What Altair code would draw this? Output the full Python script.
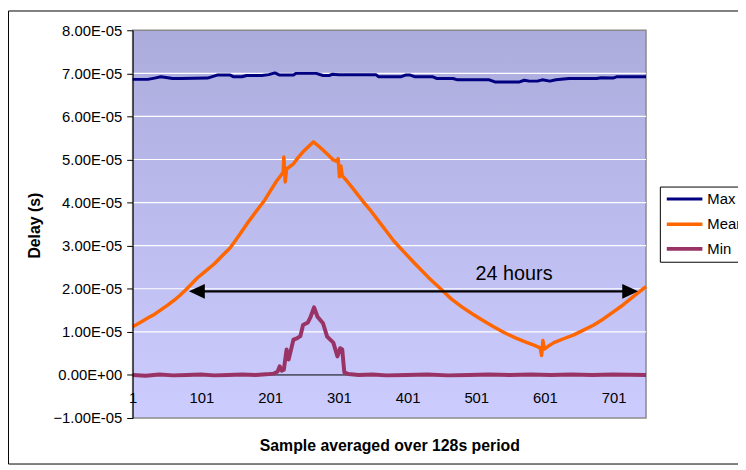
import altair as alt
import pandas as pd

# ---------------- data (delay values in units of 1e-5 s) ----------------
series_names = ["Max", "Mean", "Min"]
series_colors = ["#000080", "#FF6600", "#993366"]
series_widths = [3, 4, 4]

max_s = [1, 23, 33, 42, 52, 59, 71, 110, 124, 143, 148, 160, 167, 189, 199, 208, 215, 235, 239,
         268, 278, 287, 292, 301, 355, 359, 391, 398, 405, 412, 438, 444, 467, 474, 520, 528,
         564, 571, 578, 590, 597, 608, 617, 636, 676, 683, 700, 705, 748]
max_v = [6.86, 6.86, 6.89, 6.92, 6.90, 6.88, 6.88, 6.89, 6.96, 6.96, 6.92, 6.92, 6.95, 6.95,
         6.97, 7.01, 6.96, 6.96, 7.00, 7.00, 6.95, 6.95, 6.98, 6.97, 6.97, 6.92, 6.92, 6.96,
         6.96, 6.92, 6.92, 6.88, 6.88, 6.85, 6.85, 6.80, 6.80, 6.84, 6.82, 6.82, 6.85, 6.82,
         6.85, 6.88, 6.88, 6.90, 6.89, 6.92, 6.92]

mean_s = [1, 12, 23, 33, 42, 52, 62, 70, 78, 86, 95, 108, 120, 131, 143, 155, 167, 180, 192,
          201, 210, 218, 220, 221, 223, 225, 235, 242, 249, 257, 264, 271, 278, 286, 293, 299,
          300, 302, 304, 306, 312, 324, 336, 348, 359, 370, 381, 396, 412, 431, 451, 465, 480,
          495, 509, 525, 542, 558, 575, 585, 594, 596, 598, 600, 607, 614, 628, 643, 657, 672,
          686, 700, 715, 729, 740, 748]
mean_v = [1.12, 1.22, 1.32, 1.41, 1.51, 1.62, 1.74, 1.85, 1.97, 2.10, 2.25, 2.42, 2.58, 2.76,
          2.95, 3.22, 3.50, 3.78, 4.03, 4.26, 4.49, 4.66, 4.70, 5.06, 4.48, 4.78, 4.90, 5.05,
          5.18, 5.30, 5.41, 5.32, 5.22, 5.10, 4.99, 4.95, 5.02, 4.60, 4.85, 4.62, 4.52, 4.28,
          4.03, 3.80, 3.57, 3.34, 3.11, 2.85, 2.58, 2.27, 1.97, 1.76, 1.58, 1.42, 1.28, 1.13,
          0.98, 0.86, 0.75, 0.69, 0.63, 0.45, 0.80, 0.60, 0.68, 0.75, 0.84, 0.93, 1.04, 1.16,
          1.30, 1.46, 1.63, 1.81, 1.95, 2.05]

min_s = [1, 20, 40, 60, 80, 100, 120, 140, 160, 180, 200, 206, 212, 215, 218, 221, 225, 228,
         235, 240, 245, 249, 256, 260, 265, 270, 278, 284, 293, 299, 303, 306, 309, 315, 330,
         350, 370, 400, 430, 460, 490, 520, 550, 580, 610, 640, 670, 700, 748]
min_v = [0.0, -0.02, 0.01, -0.01, 0.0, 0.01, -0.01, 0.0, 0.01, 0.0, 0.02, 0.03, 0.08, 0.20,
         0.10, 0.12, 0.59, 0.36, 0.82, 0.85, 0.90, 1.16, 1.22, 1.35, 1.57, 1.35, 1.20, 0.89,
         0.75, 0.43, 0.62, 0.59, 0.06, 0.02, 0.0, 0.01, -0.01, 0.0, 0.01, -0.01, 0.0, 0.01,
         0.0, 0.01, 0.0, 0.01, 0.0, 0.01, 0.0]

x_ticks = [1, 101, 201, 301, 401, 501, 601, 701]
y_ticks = [-1, 0, 1, 2, 3, 4, 5, 6, 7, 8]
grid_levels = [1, 2, 3, 4, 5, 6, 7]

arrow_start, arrow_end = 83, 736.5
arrow_level = 1.94
annotation_text = ["24 hours"]
annotation_pos = [556]
annotation_level = [2.33]

x_domain = [1, 748]
UNIT = 1e-5

# ---------------- tables ----------------
rows = []
for name, ss, vs in [("Max", max_s, max_v), ("Mean", mean_s, mean_v), ("Min", min_s, min_v)]:
    for s, v in zip(ss, vs):
        rows.append({"sample": s, "delay": v * UNIT, "series": name})
df = pd.DataFrame(rows)

df_grid = pd.DataFrame({"delay": [g * UNIT for g in grid_levels]})
df_zero = pd.DataFrame({"delay": [0.0]})
df_arrow = pd.DataFrame({"sample": [arrow_start + 8], "sample2": [arrow_end - 8],
                         "delay": [arrow_level * UNIT]})
df_left = pd.DataFrame({"sample": [arrow_start], "delay": [arrow_level * UNIT]})
df_right = pd.DataFrame({"sample": [arrow_end], "delay": [arrow_level * UNIT]})
df_text = pd.DataFrame({"sample": annotation_pos, "delay": [a * UNIT for a in annotation_level],
                        "label": annotation_text})
df_one = pd.DataFrame({"a": [0]})

W, H = 519, 392
FONT = "Liberation Sans"

x_scale = alt.Scale(domain=x_domain, nice=False, zero=False)
y_scale = alt.Scale(domain=[y_ticks[0] * UNIT, y_ticks[-1] * UNIT], nice=False, zero=False)

x_axis = alt.Axis(values=x_ticks, format="d", title="Sample averaged over 128s period",
                  offset=-44, domain=False, ticks=False, grid=False, labelPadding=16,
                  labelFlush=False, labelOverlap=False, labelFont=FONT, labelFontSize=15,
                  labelColor="black", titleFont=FONT, titleFontSize=16, titleFontWeight="bold",
                  titleColor="black", titleY=72, titleBaseline="middle", zindex=1)
y_axis = alt.Axis(values=[t * UNIT for t in y_ticks],
                  labelExpr="abs(datum.value) < 1e-9 ? '0.00E+00' : format(datum.value * 1e5, '.2f') + 'E-05'",
                  title="Delay (s)", grid=False, domainColor="black", tickColor="black",
                  tickSize=6, labelPadding=5, labelFont=FONT, labelFontSize=15,
                  labelColor="black", labelOverlap=False, labelFlush=False,
                  titleFont=FONT, titleFontSize=16, titleFontWeight="bold",
                  titleColor="black", titleX=-99, titleY=197, titleBaseline="middle",
                  titleAlign="center", zindex=1)

X = alt.X("sample:Q", scale=x_scale, axis=x_axis)
Y = alt.Y("delay:Q", scale=y_scale, axis=y_axis)

gradient = alt.LinearGradient(
    gradient="linear",
    stops=[alt.GradientStop(color="#ABABDC", offset=0),
           alt.GradientStop(color="#CCCCFF", offset=1)],
    x1=0, x2=0, y1=0, y2=1)

frame = alt.Chart(df_one).mark_rect(fill="white", fillOpacity=0, stroke="black", strokeWidth=1).encode(
    x=alt.value(-125.5), x2=alt.value(W + 150), y=alt.value(-19.5), y2=alt.value(H + 46.5))

bg = alt.Chart(df_one).mark_rect(fill=gradient, stroke="#8a8a8a", strokeWidth=1.5).encode(
    x=alt.value(0), x2=alt.value(W), y=alt.value(0), y2=alt.value(H))

grid = alt.Chart(df_grid).mark_rule(color="white", strokeWidth=1.2).encode(y=Y)
zero = alt.Chart(df_zero).mark_rule(color="black", strokeWidth=1).encode(y=Y)

lines = alt.Chart(df).mark_line(strokeJoin="round").encode(
    x=X, y=Y,
    color=alt.Color("series:N", scale=alt.Scale(domain=series_names, range=series_colors),
                    legend=alt.Legend(title=None, orient="none", legendX=533, legendY=158,
                                      direction="vertical", fillColor="white",
                                      strokeColor="black", padding=5,
                                      symbolType="M-1,0H5", symbolSize=144,
                                      symbolStrokeWidth=4,
                                      labelFont=FONT, labelFontSize=15, labelColor="black",
                                      labelOffset=27, rowPadding=9)),
    strokeWidth=alt.StrokeWidth("series:N", scale=alt.Scale(domain=series_names, range=series_widths),
                                legend=None),
    order=alt.Order("sample:Q"),
)

arrow = alt.Chart(df_arrow).mark_rule(color="black", strokeWidth=2.5).encode(
    x=X, x2="sample2:Q", y=Y)
head_l = alt.Chart(df_left).mark_point(shape="M0,0L2,-0.94L2,0.94Z", size=256, filled=True,
                                       color="black", opacity=1).encode(x=X, y=Y)
head_r = alt.Chart(df_right).mark_point(shape="M0,0L-2,-0.94L-2,0.94Z", size=256, filled=True,
                                        color="black", opacity=1).encode(x=X, y=Y)
text = alt.Chart(df_text).mark_text(font=FONT, fontSize=20, color="black", align="center",
                                    baseline="middle").encode(x=X, y=Y, text="label:N")

chart = alt.layer(frame, bg, grid, zero, lines, arrow, head_l, head_r, text).properties(
    width=W, height=H, autosize="none",
    padding={"left": 126, "top": 20, "right": 93, "bottom": 48},
    background="white",
).configure_view(strokeWidth=0)

chart.save("out.html", embed_options={"renderer": "svg", "actions": False})
